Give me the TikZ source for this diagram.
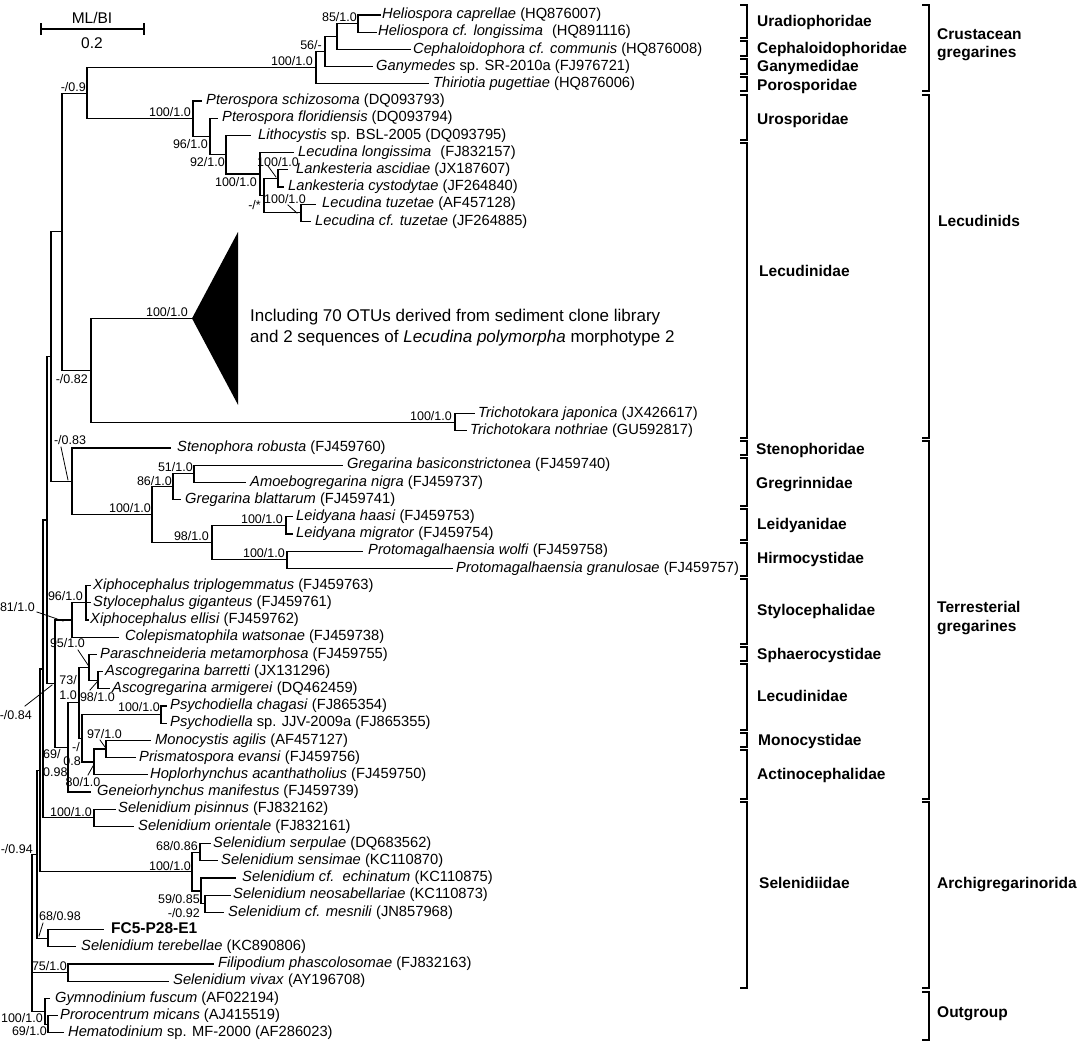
\documentclass[tikz,border=0pt]{standalone}
\usepackage{fontspec}
\setmainfont{Liberation Sans}
\newcommand{\fork}[3]{\draw[br] (#2) -| (#1) |- (#3);}
\newcommand{\tx}[5]{\node[taxon] (t#1) at (#2,#3) {#5}; \coordinate (b#1) at (#4,#3);}
\newcommand{\bk}[3]{\draw[bkt] (#1-7,#2) -- (#1,#2) -- (#1,#3) -- (#1-7,#3);}
\begin{document}
\begin{tikzpicture}[x=1pt,y=-1pt,line cap=rect,
  br/.style={line width=1.25pt},
  taxon/.style={anchor=west,inner sep=0pt,font=\fontsize{14.7}{17}\selectfont,text height=10.5pt,text depth=3pt},
  sup/.style={anchor=east,inner sep=0pt,font=\fontsize{12.5}{14}\selectfont,text height=9pt,text depth=0pt},
  supw/.style={sup,anchor=west},
  supc/.style={sup,anchor=center},
  lead/.style={line width=0.8pt},
  bkt/.style={line width=2.4pt,line cap=butt},
  famlab/.style={anchor=west,inner sep=0pt,font=\fontsize{15.5}{18}\selectfont\bfseries,text height=11pt,text depth=3pt}]
\fill[white] (0,0) rectangle (1084,1044);
\useasboundingbox (0,0) rectangle (1084,1044);

% scale bar
\draw[br] (41,24) -- (41,34) (41,29) -- (144,29) (144,24) -- (144,34);
\node[font=\fontsize{15.5}{18}\selectfont,inner sep=0pt] (mlbi) at (92,18) {ML/BI};
\node[font=\fontsize{15.5}{18}\selectfont,inner sep=0pt] (sc) at (92,43) {0.2};

% ---------- leaves (top) ----------
\tx{a0}{382}{15.0}{380}{\textit{Heliospora caprellae} (HQ876007)}
\tx{a1}{378}{32.2}{376}{\textit{Heliospora cf. longissima}\hspace{5pt} (HQ891116)}
\tx{a2}{413}{49.4}{410}{\textit{Cephaloidophora cf. communis} (HQ876008)}
\tx{a3}{376}{66.6}{372}{\textit{Ganymedes} sp. SR-2010a (FJ976721)}
\tx{a4}{433}{83.8}{428}{\textit{Thiriotia pugettiae} (HQ876006)}
\tx{a5}{206}{101.0}{201}{\textit{Pterospora schizosoma} (DQ093793)}
\tx{a6}{222}{118.2}{217}{\textit{Pterospora floridiensis} (DQ093794)}
\tx{a7}{258}{135.4}{250}{\textit{Lithocystis} sp. BSL-2005 (DQ093795)}
\tx{a8}{298}{152.6}{293}{\textit{Lecudina longissima}\hspace{5pt} (FJ832157)}
\tx{a9}{296}{169.8}{287}{\textit{Lankesteria ascidiae} (JX187607)}
\tx{a10}{288}{187.0}{283}{\textit{Lankesteria cystodytae} (JF264840)}
\tx{a11}{322}{204.2}{315}{\textit{Lecudina tuzetae} (AF457128)}
\tx{a12}{315}{221.4}{310}{\textit{Lecudina cf. tuzetae} (JF264885)}
\tx{tj}{478}{413.6}{474}{\textit{Trichotokara japonica} (JX426617)}
\tx{tn}{470}{430.8}{466}{\textit{Trichotokara nothriae} (GU592817)}

% ---------- leaves (lower) ----------
\tx{c0}{177}{448.0}{170}{\textit{Stenophora robusta} (FJ459760)}
\tx{c1}{347}{465.2}{342}{\textit{Gregarina basiconstrictonea} (FJ459740)}
\tx{c2}{250}{482.4}{245}{\textit{Amoebogregarina nigra} (FJ459737)}
\tx{c3}{185}{499.6}{180}{\textit{Gregarina blattarum} (FJ459741)}
\tx{c4}{296}{516.8}{292}{\textit{Leidyana haasi} (FJ459753)}
\tx{c5}{296}{534.0}{292}{\textit{Leidyana migrator} (FJ459754)}
\tx{c6}{368}{551.2}{362}{\textit{Protomagalhaensia wolfi} (FJ459758)}
\tx{c7}{456}{568.4}{452}{\textit{Protomagalhaensia granulosae} (FJ459757)}
\tx{c8}{93}{585.6}{90}{\textit{Xiphocephalus triplogemmatus} (FJ459763)}
\tx{c9}{93}{602.8}{90}{\textit{Stylocephalus giganteus} (FJ459761)}
\tx{c10}{90}{620.0}{88}{\textit{Xiphocephalus ellisi} (FJ459762)}
\tx{c11}{125}{637.2}{118}{\textit{Colepismatophila watsonae} (FJ459738)}
\tx{c12}{100}{654.4}{96}{\textit{Paraschneideria metamorphosa} (FJ459755)}
\tx{c13}{105}{671.6}{102}{\textit{Ascogregarina barretti} (JX131296)}
\tx{c14}{112}{688.8}{109}{\textit{Ascogregarina armigerei} (DQ462459)}
\tx{c15}{170}{706.0}{166}{\textit{Psychodiella chagasi} (FJ865354)}
\tx{c16}{170}{723.2}{166}{\textit{Psychodiella} sp. JJV-2009a (FJ865355)}
\tx{c17}{155}{740.4}{150}{\textit{Monocystis agilis} (AF457127)}
\tx{c18}{139}{757.6}{135}{\textit{Prismatospora evansi} (FJ459756)}
\tx{c19}{150}{774.8}{147}{\textit{Hoplorhynchus acanthatholius} (FJ459750)}
\tx{c20}{97}{792.0}{90}{\textit{Geneiorhynchus manifestus} (FJ459739)}
\tx{c21}{118}{809.2}{115}{\textit{Selenidium pisinnus} (FJ832162)}
\tx{c22}{138}{826.4}{133}{\textit{Selenidium orientale} (FJ832161)}
\tx{c23}{213}{843.6}{210}{\textit{Selenidium serpulae} (DQ683562)}
\tx{c24}{221}{860.8}{217}{\textit{Selenidium sensimae} (KC110870)}
\tx{c25}{242}{878.0}{235}{\textit{Selenidium cf.\ \ echinatum} (KC110875)}
\tx{c26}{233}{895.2}{230}{\textit{Selenidium neosabellariae} (KC110873)}
\tx{c27}{228}{912.4}{223}{\textit{Selenidium cf. mesnili} (JN857968)}
\tx{c28}{111}{929.6}{103}{\fontsize{15.5}{17}\selectfont\bfseries FC5-P28-E1}
\tx{c29}{81}{946.8}{75}{\textit{Selenidium terebellae} (KC890806)}
\tx{c30}{218}{964.0}{213}{\textit{Filipodium phascolosomae} (FJ832163)}
\tx{c31}{173}{981.2}{168}{\textit{Selenidium vivax} (AY196708)}
\tx{c32}{55}{998.4}{49}{\textit{Gymnodinium fuscum} (AF022194)}
\tx{c33}{60}{1015.6}{57}{\textit{Prorocentrum micans} (AJ415519)}
\tx{c34}{68}{1032.8}{63}{\textit{Hematodinium} sp. MF-2000 (AF286023)}

% ---------- internal nodes ----------
\coordinate (nHel) at (358,23.6);
\coordinate (nCeph) at (337,36.5);
\coordinate (nGany) at (325,51.55);
\coordinate (nCrus) at (316,67.7);
\coordinate (nLank) at (278,178.4);
\coordinate (nTuz) at (301,212.8);
\coordinate (nB) at (264,195.6);
\coordinate (nA) at (260,174.1);
\coordinate (n92) at (226,154.75);
\coordinate (n96) at (210,136.5);
\coordinate (nPt) at (193,118.75);
\coordinate (n09) at (87,93.2);
\coordinate (apex) at (192,318.4);
\coordinate (triT) at (238,232);
\coordinate (triB) at (238,404.8);
\coordinate (nTri) at (455,422.2);
\coordinate (n082) at (91,370.3);
\coordinate (n62) at (62,231.75);
\coordinate (n51) at (194,473.8);
\coordinate (n86) at (173,486.7);
\coordinate (nLeid) at (286,525.4);
\coordinate (nProt) at (287,559.8);
\coordinate (n98) at (212,542.6);
\coordinate (nG) at (152,514.65);
\coordinate (n083) at (72,481.3);
\coordinate (nX) at (51,356.5);
\coordinate (nSty) at (86,602.8);
\coordinate (n81) at (72,620);
\coordinate (nAsco) at (98,680.2);
\coordinate (n95) at (89,667.3);
\coordinate (nPsy) at (161,714.6);
\coordinate (n97) at (106,749);
\coordinate (n80) at (94,761.9);
\coordinate (n08) at (82,738.25);
\coordinate (n73) at (79,702.8);
\coordinate (n69) at (68,747.4);
\coordinate (n084) at (55,683.7);
\coordinate (nT) at (47,520.1);
\coordinate (nPis) at (94,817.8);
\coordinate (n6886) at (200,852.2);
\coordinate (n092) at (205,903.8);
\coordinate (n5985) at (201,890.9);
\coordinate (nS) at (192,871.55);
\coordinate (nFC) at (48,938.2);
\coordinate (nFil) at (68,972.6);
\coordinate (nO2) at (48,1024.2);
\coordinate (nO) at (45,1011.3);
\coordinate (nU) at (43,668.95);
\coordinate (nV) at (40,770.25);
\coordinate (nW) at (37,854.2);
\coordinate (root) at (32,930);

% ---------- branches ----------
\fork{nHel}{ba0}{ba1}
\fork{nCeph}{nHel}{ba2}
\fork{nGany}{nCeph}{ba3}
\fork{nCrus}{nGany}{ba4}
\fork{nLank}{ba9}{ba10}
\fork{nTuz}{ba11}{ba12}
\fork{nB}{nLank}{nTuz}
\fork{nA}{ba8}{nB}
\fork{n92}{ba7}{nA}
\fork{n96}{ba6}{n92}
\fork{nPt}{ba5}{n96}
\fork{n09}{nCrus}{nPt}
\fork{nTri}{btj}{btn}
\fork{n082}{apex}{nTri}
\fork{n62}{n09}{n082}
\fill (apex) -- (triT) -- (triB) -- cycle;
\fork{n51}{bc1}{bc2}
\fork{n86}{n51}{bc3}
\fork{nLeid}{bc4}{bc5}
\fork{nProt}{bc6}{bc7}
\fork{n98}{nLeid}{nProt}
\fork{nG}{n86}{n98}
\fork{n083}{bc0}{nG}
\fork{nX}{n62}{n083}
\fork{nSty}{bc8}{bc10}
\draw[br] (nSty |- bc9) -- (bc9);
\fork{n81}{nSty}{bc11}
\fork{nAsco}{bc13}{bc14}
\fork{n95}{bc12}{nAsco}
\fork{nPsy}{bc15}{bc16}
\fork{n97}{bc17}{bc18}
\fork{n80}{n97}{bc19}
\fork{n08}{nPsy}{n80}
\fork{n73}{n95}{n08}
\fork{n69}{n73}{bc20}
\fork{n084}{n81}{n69}
\fork{nT}{nX}{n084}
\fork{nPis}{bc21}{bc22}
\fork{n6886}{bc23}{bc24}
\fork{n092}{bc26}{bc27}
\fork{n5985}{bc25}{n092}
\fork{nS}{n6886}{n5985}
\fork{nFC}{bc28}{bc29}
\fork{nFil}{bc30}{bc31}
\fork{nO2}{bc33}{bc34}
\fork{nO}{bc32}{nO2}
\fork{nU}{nT}{nPis}
\fork{nV}{nU}{nS}
\fork{nW}{nV}{nFC}
\fork{root}{nW}{nO}
\draw[br] (root |- nFil) -- (nFil);

% ---------- support values ----------
\node[sup] (s1) at (357,17) {85/1.0};
\node[sup] (s2) at (322,45) {56/-};
\node[sup] (s3) at (313,61) {100/1.0};
\node[sup] (s4) at (86,87) {-/0.9};
\node[sup] (s5) at (191,112) {100/1.0};
\node[sup] (s6) at (208,144) {96/1.0};
\node[sup] (s7) at (225,162) {92/1.0};
\node[sup] (s8) at (257,182) {100/1.0};
\node[supc] (s9) at (278,162) {100/1.0};
\draw[lead] (268,166) -- (276,177);
\node[sup] (s10) at (261,205) {-/*};
\node[supc] (s11) at (285,199) {100/1.0};
\draw[lead] (288,205) -- (297,213);
\node[sup] (s12) at (188,312) {100/1.0};
\node[sup] (s13) at (88,379) {-/0.82};
\node[sup] (s14) at (452,416) {100/1.0};
\node[supc] (s15) at (70,440) {-/0.83};
\draw[lead] (61,447) -- (68,480);
\node[sup] (s16) at (193,467) {51/1.0};
\node[sup] (s17) at (172,481) {86/1.0};
\node[sup] (s18) at (151,508) {100/1.0};
\node[sup] (s19) at (283,519) {100/1.0};
\node[sup] (s20) at (209,536) {98/1.0};
\node[sup] (s21) at (285,553) {100/1.0};
\node[sup] (s22) at (83,596) {96/1.0};
\node[sup] (s23) at (35,607) {81/1.0};
\draw[lead] (37,612) -- (63,621);
\node[sup] (s24) at (85,643) {95/1.0};
\draw[lead] (78,650) -- (88,665);
\node[sup] (s25a) at (77,680) {73/};
\node[sup] (s25b) at (77,695) {1.0};
\node[sup] (s26) at (115,697) {98/1.0};
\draw[lead] (90,690) -- (97,682);
\node[sup] (s27) at (160,707) {100/1.0};
\node[sup] (s28) at (122,734) {97/1.0};
\draw[lead] (100,740) -- (105,747);
\node[sup] (s29a) at (80,747) {-/};
\node[sup] (s29b) at (81,761) {0.8};
\node[supc] (s30) at (83,782) {80/1.0};
\draw[lead] (88,775) -- (93,766);
\node[supw] (s31a) at (43,754) {69/};
\node[supw] (s31b) at (43,772) {0.98};
\node[sup] (s32) at (32,715) {-/0.84};
\draw[lead] (25,706) -- (52,685);
\node[sup] (s33) at (92,812) {100/1.0};
\node[sup] (s34) at (198,846) {68/0.86};
\node[sup] (s35) at (191,866) {100/1.0};
\node[sup] (s36) at (200,899) {59/0.85};
\node[sup] (s37) at (200,913) {-/0.92};
\node[supc] (s38) at (60,916) {68/0.98};
\draw[lead] (43,923) -- (39,936);
\node[sup] (s39) at (33,849) {-/0.94};
\node[sup] (s40) at (67,966) {75/1.0};
\node[sup] (s41) at (43,1018) {100/1.0};
\node[sup] (s42) at (47,1031) {69/1.0};

% ---------- collapsed clade text ----------
\node[anchor=west,inner sep=0pt,font=\fontsize{17}{20}\selectfont,text height=12pt,text depth=3.5pt] (inc1) at (250,317) {Including 70 OTUs derived from sediment clone library};
\node[anchor=west,inner sep=0pt,font=\fontsize{17}{20}\selectfont,text height=12pt,text depth=3.5pt] (inc2) at (250,338) {and 2 sequences of \textit{Lecudina polymorpha} morphotype 2};

% ---------- family brackets ----------
\bk{747}{5}{38}    \node[famlab] (f1) at (757,23) {Uradiophoridae};
\bk{747}{41}{56}   \node[famlab] (f2) at (757,49) {Cephaloidophoridae};
\bk{747}{59}{74}   \node[famlab] (f3) at (757,67) {Ganymedidae};
\bk{747}{77}{91}   \node[famlab] (f4) at (757,86) {Porosporidae};
\bk{747}{95}{140}  \node[famlab] (f5) at (757,120) {Urosporidae};
\bk{747}{143}{438} \node[famlab] (f6) at (759,272) {Lecudinidae};
\bk{747}{441}{455} \node[famlab] (f7) at (756,450) {Stenophoridae};
\bk{747}{458}{506} \node[famlab] (f8) at (756,484) {Gregrinnidae};
\bk{747}{509}{540} \node[famlab] (f9) at (757,525) {Leidyanidae};
\bk{747}{543}{576} \node[famlab] (f10) at (757,559) {Hirmocystidae};
\bk{747}{579}{644} \node[famlab] (f11) at (757,611) {Stylocephalidae};
\bk{747}{647}{661} \node[famlab] (f12) at (757,655) {Sphaerocystidae};
\bk{747}{664}{730} \node[famlab] (f13) at (757,697) {Lecudinidae};
\bk{747}{733}{747} \node[famlab] (f14) at (758,741) {Monocystidae};
\bk{747}{750}{799} \node[famlab] (f15) at (757,775) {Actinocephalidae};
\bk{747}{802}{988} \node[famlab] (f16) at (759,884) {Selenidiidae};

% ---------- higher groups ----------
\bk{929}{5}{91}    \node[famlab] (g1a) at (937,35) {Crustacean};
                   \node[famlab] (g1b) at (937,53) {gregarines};
\bk{929}{95}{438}  \node[famlab] (g2) at (938,222) {Lecudinids};
\bk{929}{441}{799} \node[famlab] (g3a) at (937,608) {Terresterial};
                   \node[famlab] (g3b) at (937,627) {gregarines};
\bk{929}{802}{988} \node[famlab] (g4) at (937,884) {Archigregarinorida};
\bk{929}{992}{1040} \node[famlab] (g5) at (937,1013) {Outgroup};
\end{tikzpicture}
\end{document}
